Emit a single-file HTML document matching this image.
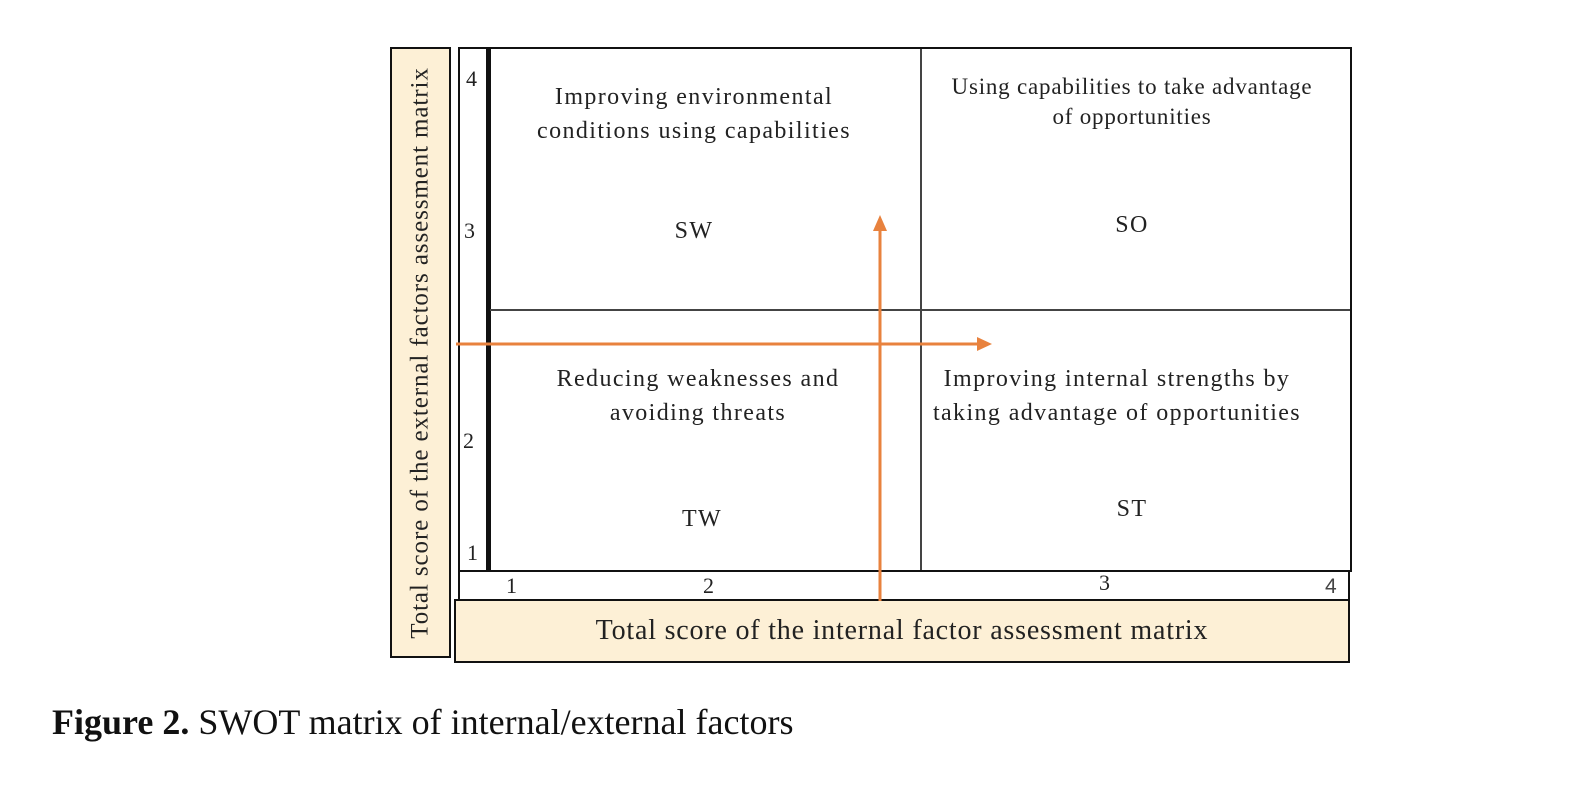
<!DOCTYPE html>
<html><head><meta charset="utf-8"><style>
body{margin:0;width:1580px;height:804px;background:#fff;position:relative;overflow:hidden;font-family:"Liberation Serif",serif;color:#222}
div{position:absolute;box-sizing:border-box}
.t{text-align:center;font-size:24px;line-height:34px;letter-spacing:1.4px}
.n{font-size:22px}
</style></head><body>
<div style="left:390px;top:47px;width:61px;height:611px;border:2.5px solid #111;background:#fdf0d6"></div>
<div style="left:392px;top:47px;width:57px;height:611px;display:flex;align-items:center;justify-content:center"><div style="position:static;transform:rotate(-90deg);white-space:nowrap;font-size:25px;letter-spacing:0.9px">Total score of the external factors assessment matrix</div></div>
<div style="left:458px;top:47px;width:32px;height:525px;border:2px solid #111;border-right:none"></div>
<div style="left:486px;top:47px;width:866px;height:525px;border:2.5px solid #111;border-left:5px solid #111"></div>
<div style="left:920px;top:49px;width:1.5px;height:521px;background:#444"></div>
<div style="left:490px;top:309px;width:860px;height:1.5px;background:#444"></div>
<div style="left:458px;top:570px;width:892px;height:32px;border:2px solid #111;border-top:none;border-bottom:none"></div>
<div style="left:454px;top:599px;width:896px;height:64px;border:2.5px solid #111;background:#fdf0d6;font-size:28px;letter-spacing:0.8px;text-align:center;line-height:60px">Total score of the internal factor assessment matrix</div>
<div class="n" style="left:466px;top:66px">4</div>
<div class="n" style="left:464px;top:218px">3</div>
<div class="n" style="left:463px;top:428px">2</div>
<div class="n" style="left:467px;top:540px">1</div>
<div class="n" style="left:506px;top:573px">1</div>
<div class="n" style="left:703px;top:573px">2</div>
<div class="n" style="left:1099px;top:570px">3</div>
<div class="n" style="left:1325px;top:575px;font-family:'Liberation Sans',sans-serif;font-size:21px;color:#444">4</div>
<div class="t" style="left:474px;top:80px;width:440px">Improving environmental<br>conditions using capabilities</div>
<div class="t" style="left:494px;top:214px;width:400px">SW</div>
<div class="t" style="left:912px;top:72px;width:440px;font-size:23px;line-height:30px;letter-spacing:0.8px">Using capabilities to take advantage<br>of opportunities</div>
<div class="t" style="left:932px;top:208px;width:400px">SO</div>
<div class="t" style="left:478px;top:362px;width:440px">Reducing weaknesses and<br>avoiding threats</div>
<div class="t" style="left:502px;top:502px;width:400px">TW</div>
<div class="t" style="left:897px;top:362px;width:440px">Improving internal strengths by<br>taking advantage of opportunities</div>
<div class="t" style="left:932px;top:492px;width:400px">ST</div>
<svg style="position:absolute;left:0;top:0" width="1580" height="804">
<g stroke="#e8823e" stroke-width="3" fill="#e8823e">
<line x1="456" y1="344" x2="980" y2="344"/>
<polygon points="992,344 977,337 977,351" stroke="none"/>
<line x1="880" y1="601" x2="880" y2="228"/>
<polygon points="880,215 873,231 887,231" stroke="none"/>
</g></svg>
<div style="left:52px;top:701px;font-size:36px;white-space:nowrap;color:#111"><b>Figure 2.</b> SWOT matrix of internal/external factors</div>
</body></html>
